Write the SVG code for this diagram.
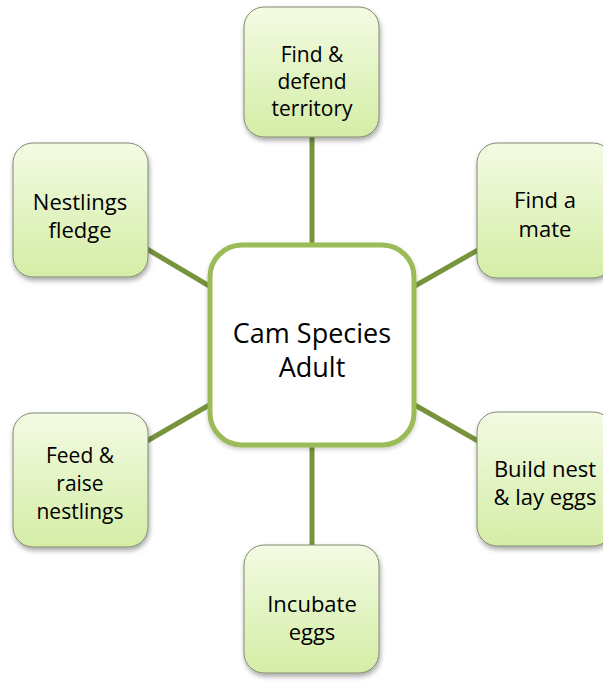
<svg xmlns="http://www.w3.org/2000/svg" width="603" height="685" viewBox="0 0 603 685">
<defs>
<linearGradient id="g" x1="0" y1="0" x2="0" y2="1">
<stop offset="0" stop-color="#f3fbe3"/>
<stop offset="1" stop-color="#d4eda6"/>
</linearGradient>
<filter id="sh" x="-20%" y="-20%" width="140%" height="140%">
<feDropShadow dx="1" dy="3" stdDeviation="2.5" flood-color="#000" flood-opacity="0.35"/>
</filter>
<filter id="sh2" x="-20%" y="-20%" width="140%" height="140%">
<feDropShadow dx="0" dy="2" stdDeviation="2" flood-color="#000" flood-opacity="0.2"/>
</filter>
</defs>
<style>
.box{fill:url(#g);stroke:#7f8a70;stroke-width:1;filter:url(#sh)}
.ctr{fill:#fff;stroke:#9bbb59;stroke-width:5;filter:url(#sh2)}
.con{stroke:#77933c;stroke-width:5;fill:none}
text{font-family:"Open Sans","Liberation Sans",sans-serif;font-size:22px;fill:#000;text-anchor:middle}
.big{font-size:27px}
.sm{font-size:21px}
</style>
<g id="connectors">
<line class="con" x1="312" y1="137" x2="312" y2="245"/>
<line class="con" x1="312" y1="445" x2="312" y2="546"/>
<line class="con" x1="413" y1="287" x2="478" y2="250"/>
<line class="con" x1="413" y1="404" x2="478" y2="441"/>
<line class="con" x1="211" y1="287" x2="147" y2="249"/>
<line class="con" x1="211" y1="404" x2="147" y2="441"/>
</g>
<g id="center">
<rect class="ctr" x="210" y="245" width="204" height="200" rx="32"/>
<text class="big" x="312" y="343">Cam Species</text>
<text class="big" x="312" y="377">Adult</text>
</g>
<g id="territory">
<rect class="box" x="244" y="7" width="135" height="130" rx="20"/>
<text class="sm" x="312" y="62">Find &amp;</text>
<text class="sm" x="312" y="89">defend</text>
<text class="sm" x="312" y="116">territory</text>
</g>
<g id="mate">
<rect class="box" x="477" y="143" width="136" height="135" rx="20"/>
<text x="545" y="208">Find a</text>
<text x="545" y="237">mate</text>
</g>
<g id="nest">
<rect class="box" x="477" y="412" width="136" height="134" rx="20"/>
<text x="545" y="477">Build nest</text>
<text x="545" y="505">&amp; lay eggs</text>
</g>
<g id="incubate">
<rect class="box" x="244" y="545" width="135" height="128" rx="20"/>
<text x="312" y="612">Incubate</text>
<text x="312" y="640">eggs</text>
</g>
<g id="feed">
<rect class="box" x="13" y="413" width="135" height="134" rx="20"/>
<text class="sm" x="80" y="463">Feed &amp;</text>
<text class="sm" x="80" y="491">raise</text>
<text class="sm" x="80" y="519">nestlings</text>
</g>
<g id="fledge">
<rect class="box" x="13" y="143" width="135" height="134" rx="20"/>
<text x="80" y="210">Nestlings</text>
<text x="80" y="238">fledge</text>
</g>
</svg>
